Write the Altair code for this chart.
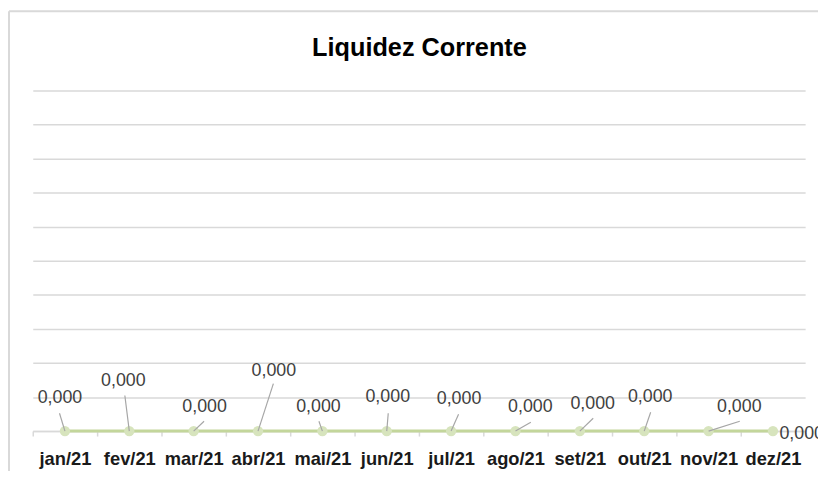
import altair as alt
import pandas as pd

months = ["jan/21", "fev/21", "mar/21", "abr/21", "mai/21", "jun/21",
          "jul/21", "ago/21", "set/21", "out/21", "nov/21", "dez/21"]
values = [0.0, 0.0, 0.0, 0.0, 0.0, 0.0, 0.0, 0.0, 0.0, 0.0, 0.0, 0.0]
y_ticks = [0, 1, 2, 3, 4, 5, 6, 7, 8, 9, 10]
title_text = "Liquidez Corrente"

# label placement (pixel offsets from each point) and leader-line ends
label_dx = [-5, -6, 11, 16, -4, 1, 8, 15, 13, 6, 31, 29]
label_dy = [-33, -51, -24, -61, -24, -34, -32, -24, -27, -34, -24, 3]
leader_dx = [-5.5, -4.5, 10.5, 15.5, -3.5, 1.5, 7.5, 15.5, 13.5, 6.5, 31.5, None]
leader_dy = [-18, -36, -10, -48, -10, -18, -17, -9, -13, -19, -10, None]

df = pd.DataFrame({"month": months, "value": values})
df["label"] = [f"{v:.3f}".replace(".", ",") for v in values]

W, H = 780, 344
PAD_L, PAD_T = 25, 81

x_enc = alt.X("month:N", sort=months, title=None,
              scale=alt.Scale(type="band", paddingInner=0, paddingOuter=0),
              axis=alt.Axis(labelAngle=0, tickBand="extent", tickSize=5,
                            tickColor="#D9D9D9", tickWidth=1.5,
                            domainColor="#D9D9D9", domainWidth=1.5,
                            labelFont="Liberation Sans", labelFontSize=18.5,
                            labelFontWeight="bold", labelColor="#1a1a1a",
                            labelPadding=14, grid=False))
y_enc = alt.Y("value:Q", title=None,
              scale=alt.Scale(domain=[0, 10], nice=False, zero=True),
              axis=alt.Axis(values=y_ticks, labels=False, ticks=False, domain=False,
                            grid=True, gridColor="#D9D9D9", gridWidth=1.5))

base = alt.Chart(df)

line = base.mark_line(color="#C3D69B", strokeWidth=3).encode(x=x_enc, y=y_enc)
pts = base.mark_point(filled=True, color="#D7E4BD", opacity=1, size=110).encode(
    x=x_enc, y=y_enc)

layers = [line, pts]
for i, m in enumerate(months):
    sub = base.transform_filter(alt.datum.month == m)
    if leader_dx[i] is not None:
        layers.append(sub.mark_rule(color="#A6A6A6", strokeWidth=1.2,
                                    x2Offset=leader_dx[i], y2Offset=leader_dy[i]).encode(
            x=x_enc, x2="month:N", y=y_enc, y2="value:Q"))
    layers.append(sub.mark_text(font="Liberation Sans", fontSize=18, color="#404040",
                                dx=label_dx[i], dy=label_dy[i], baseline="middle",
                                align="center").encode(
        x=x_enc, y=y_enc, text="label:N"))

border_df = pd.DataFrame({"t": [title_text]})
left_border = alt.Chart(border_df).mark_rule(color="#D9D9D9", strokeWidth=2).encode(
    x=alt.value(-PAD_L + 1), y=alt.value(-PAD_T + 1), y2=alt.value(H + 60))
top_border = alt.Chart(border_df).mark_rule(color="#D9D9D9", strokeWidth=2).encode(
    x=alt.value(-PAD_L + 1), x2=alt.value(W + 30), y=alt.value(-PAD_T + 1))
title = alt.Chart(border_df).mark_text(font="Liberation Sans", fontSize=25.5,
                                       fontWeight="bold", color="#000000",
                                       align="center", baseline="alphabetic").encode(
    x=alt.value(W / 2 + 0.5), y=alt.value(-35), text="t:N")
layers += [left_border, top_border, title]

chart = alt.layer(*layers).properties(
    width=W, height=H,
    autosize=alt.AutoSizeParams(type="none"),
    padding={"left": PAD_L, "top": PAD_T, "right": 13, "bottom": 38},
).configure_view(stroke=None)

chart.save("out.html", embed_options={"renderer": "svg", "actions": False})
